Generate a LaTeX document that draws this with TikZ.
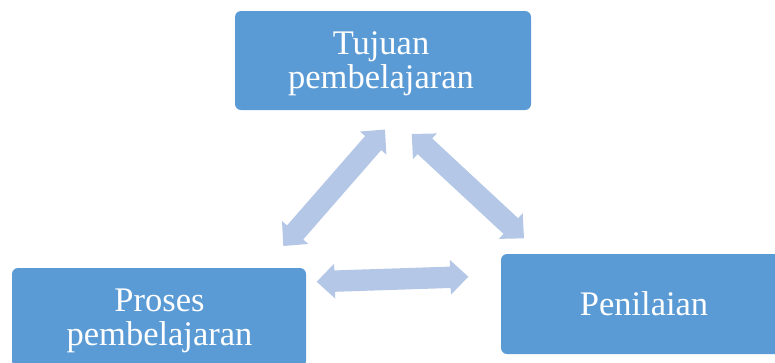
\documentclass[tikz,border=0pt]{standalone}
\usepackage{fontspec}
\setmainfont{Liberation Serif}
\usetikzlibrary{calc}
\definecolor{boxblue}{HTML}{5B9BD5}
\definecolor{arrblue}{HTML}{B4C7E7}
\newcommand\arrHL{18pt}
\newcommand\arrHW{17.5pt}
\newcommand\arrSW{10.7pt}
\newcommand\blockarr[2]{%
  \fill[arrblue] (#1)
    -- ($(#1)!\arrHL!(#2)!\arrHW!90:(#2)$)
    -- ($(#1)!\arrHL!(#2)!\arrSW!90:(#2)$)
    -- ($(#2)!\arrHL!(#1)!\arrSW!-90:(#1)$)
    -- ($(#2)!\arrHL!(#1)!\arrHW!-90:(#1)$)
    -- (#2)
    -- ($(#2)!\arrHL!(#1)!\arrHW!90:(#1)$)
    -- ($(#2)!\arrHL!(#1)!\arrSW!90:(#1)$)
    -- ($(#1)!\arrHL!(#2)!\arrSW!-90:(#2)$)
    -- ($(#1)!\arrHL!(#2)!\arrHW!-90:(#2)$)
    -- cycle;}
\newcommand\twolines[2]{\begin{tabular}[t]{@{}c@{}}#1\\#2\end{tabular}}
\begin{document}
\begin{tikzpicture}[x=1pt,y=-1pt,
  box/.style={fill=boxblue, draw=none, rounded corners=6pt, inner sep=0pt, minimum height=99pt},
  lbl/.style={text=white, font=\fontsize{34.5}{34}\selectfont, inner sep=0pt, anchor=base}]
\useasboundingbox (0,0) rectangle (775,362);
\clip (0,0) rectangle (775,362);
% boxes
\node[box, minimum width=296pt] (top) at (383,60.5) {};
\node[box, minimum width=294pt] (left) at (159,317.5) {};
\node[box, minimum width=295pt, minimum height=100pt] (right) at (648.5,304) {};
% labels
\node[lbl] (toplbl) at (381,54) {\twolines{Tujuan}{pembelajaran}};
\node[lbl] (leftlbl) at (159.5,311.5) {\twolines{Proses}{pembelajaran}};
\node[lbl] (rightlbl) at (644,315) {Penilaian};
% arrow ends
\coordinate (a1s) at (385,129.5);
\coordinate (a1e) at (283.3,246);
\coordinate (a2s) at (411.7,134);
\coordinate (a2e) at (524,238.3);
\coordinate (a3s) at (316.7,281.7);
\coordinate (a3e) at (468.3,276.7);
\blockarr{a1s}{a1e}
\blockarr{a2s}{a2e}
\blockarr{a3s}{a3e}
\end{tikzpicture}
\end{document}
